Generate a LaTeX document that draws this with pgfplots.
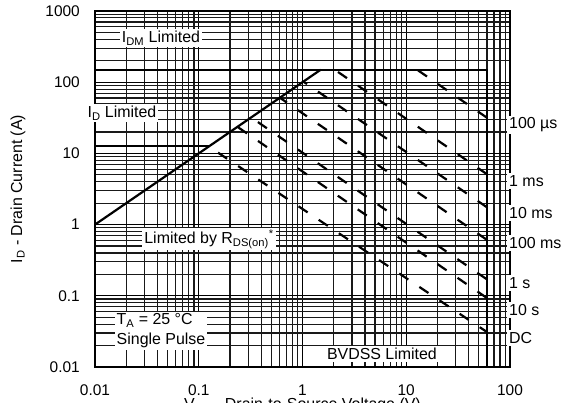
\documentclass[border=0pt]{standalone}
\usepackage{pgfplots}
\pgfplotsset{compat=1.18}
\usepackage{fontspec}
\setmainfont{Liberation Sans}

\newcommand{\annfont}{\fontsize{16}{20}\selectfont}
\newcommand{\tickfont}{\fontsize{15.5}{18}\selectfont}

\begin{document}
\begin{tikzpicture}
\begin{axis}[
  xmode=log, ymode=log,
  scale only axis,
  width=415bp, height=356bp,
  xmin=0.01, xmax=100, ymin=0.01, ymax=1000,
  xtick={0.01,0.1,1,10,100},
  xticklabels={0.01,0.1,1,10,100},
  ytick={0.01,0.1,1,10,100,1000},
  yticklabels={0.01,0.1,1,10,100,1000},
  minor xtick={0.02,0.03,0.04,0.05,0.06,0.07,0.08,0.09,
               0.2,0.3,0.4,0.5,0.6,0.7,0.8,0.9,
               2,3,4,5,6,7,8,9,20,30,40,50,60,70,80,90},
  minor ytick={0.02,0.03,0.04,0.05,0.06,0.07,0.08,0.09,
               0.2,0.3,0.4,0.5,0.6,0.7,0.8,0.9,
               2,3,4,5,6,7,8,9,20,30,40,50,60,70,80,90,
               200,300,400,500,600,700,800,900},
  grid=both,
  major grid style={black, line width=1.3bp},
  minor grid style={black!90, line width=1.15bp},
  major tick length=0pt, minor tick length=0pt,
  axis line style={line width=2bp},
  tick label style={font=\tickfont, inner sep=0pt},
  xticklabel style={yshift=-17.5bp},
  yticklabel style={xshift=-15bp},
  clip=false,
]
% limits: R_DS(on), I_DM, I_D and BVDSS
\addplot[black, line width=2.2bp] coordinates {(0.01,1) (1.5,150)};
\addplot[black, line width=2bp] coordinates {(0.01,150) (60,150) (60,0.01)};
\addplot[black, line width=2bp] coordinates {(0.01,12.5) (0.125,12.5)};

% single pulse boundaries
\tikzset{pulse/.style={black, line width=2.2bp, dash pattern=on 10.9bp off 13.3bp, dash phase=#1}}
\addplot[pulse=23.0bp] coordinates {(12.7,150) (60,31.7)};   % 100 us
\addplot[pulse=20.1bp] coordinates {(2.04,150) (60,5.1)};    % 1 ms
\addplot[pulse=6.5bp]  coordinates {(1.02,102) (60,1.75)};   % 10 ms
\addplot[pulse=2.3bp]  coordinates {(0.605,60.5) (60,0.61)}; % 100 ms
\addplot[pulse=16.0bp] coordinates {(0.32,32) (60,0.17)};    % 1 s
\addplot[pulse=23.5bp] coordinates {(0.236,23.6) (60,0.093)};% 10 s
\addplot[pulse=13.1bp] coordinates {(0.125,12.5) (60,0.031)};% DC

% annotations
\tikzset{lab/.style={fill=white, inner sep=2bp, font=\annfont}}
\node[lab] at (axis cs:0.0433,418) {I\textsubscript{DM} Limited};
\node[lab] at (axis cs:0.0182,36.9) {I\textsubscript{D} Limited};
\node[lab] at (axis cs:0.1256,0.628) {Limited by R\textsubscript{DS(on)}\textsuperscript{*}};
\node[lab, align=left] at (axis cs:0.0433,0.032) {T\textsubscript{A} = 25 °C\\Single Pulse};
\node[lab] at (axis cs:5.83,0.0152) {BVDSS Limited};

\tikzset{rlab/.style={lab, anchor=west, xshift=-3bp}}
\node[rlab] at (axis cs:100,25)     {100 µs};
\node[rlab] at (axis cs:100,4.1)    {1 ms};
\node[rlab] at (axis cs:100,1.46)   {10 ms};
\node[rlab] at (axis cs:100,0.55)   {100 ms};
\node[rlab] at (axis cs:100,0.151)  {1 s};
\node[rlab] at (axis cs:100,0.063)  {10 s};
\node[rlab] at (axis cs:100,0.0255) {DC};

% axis titles
\node[xshift=-77bp, rotate=90, font=\annfont, inner sep=0pt] at (rel axis cs:0,0.5)
  {I\textsubscript{D} - Drain Current (A)};
\node[anchor=north, font=\annfont, inner sep=0pt, yshift=-31bp] at (rel axis cs:0.5,0)
  {V\textsubscript{DS} - Drain-to-Source Voltage (V)};
\end{axis}
\pgfresetboundingbox
\path[use as bounding box] (current axis.south west) ++(-95bp,-36bp) rectangle ++(568bp,403bp);
\end{tikzpicture}
\end{document}
